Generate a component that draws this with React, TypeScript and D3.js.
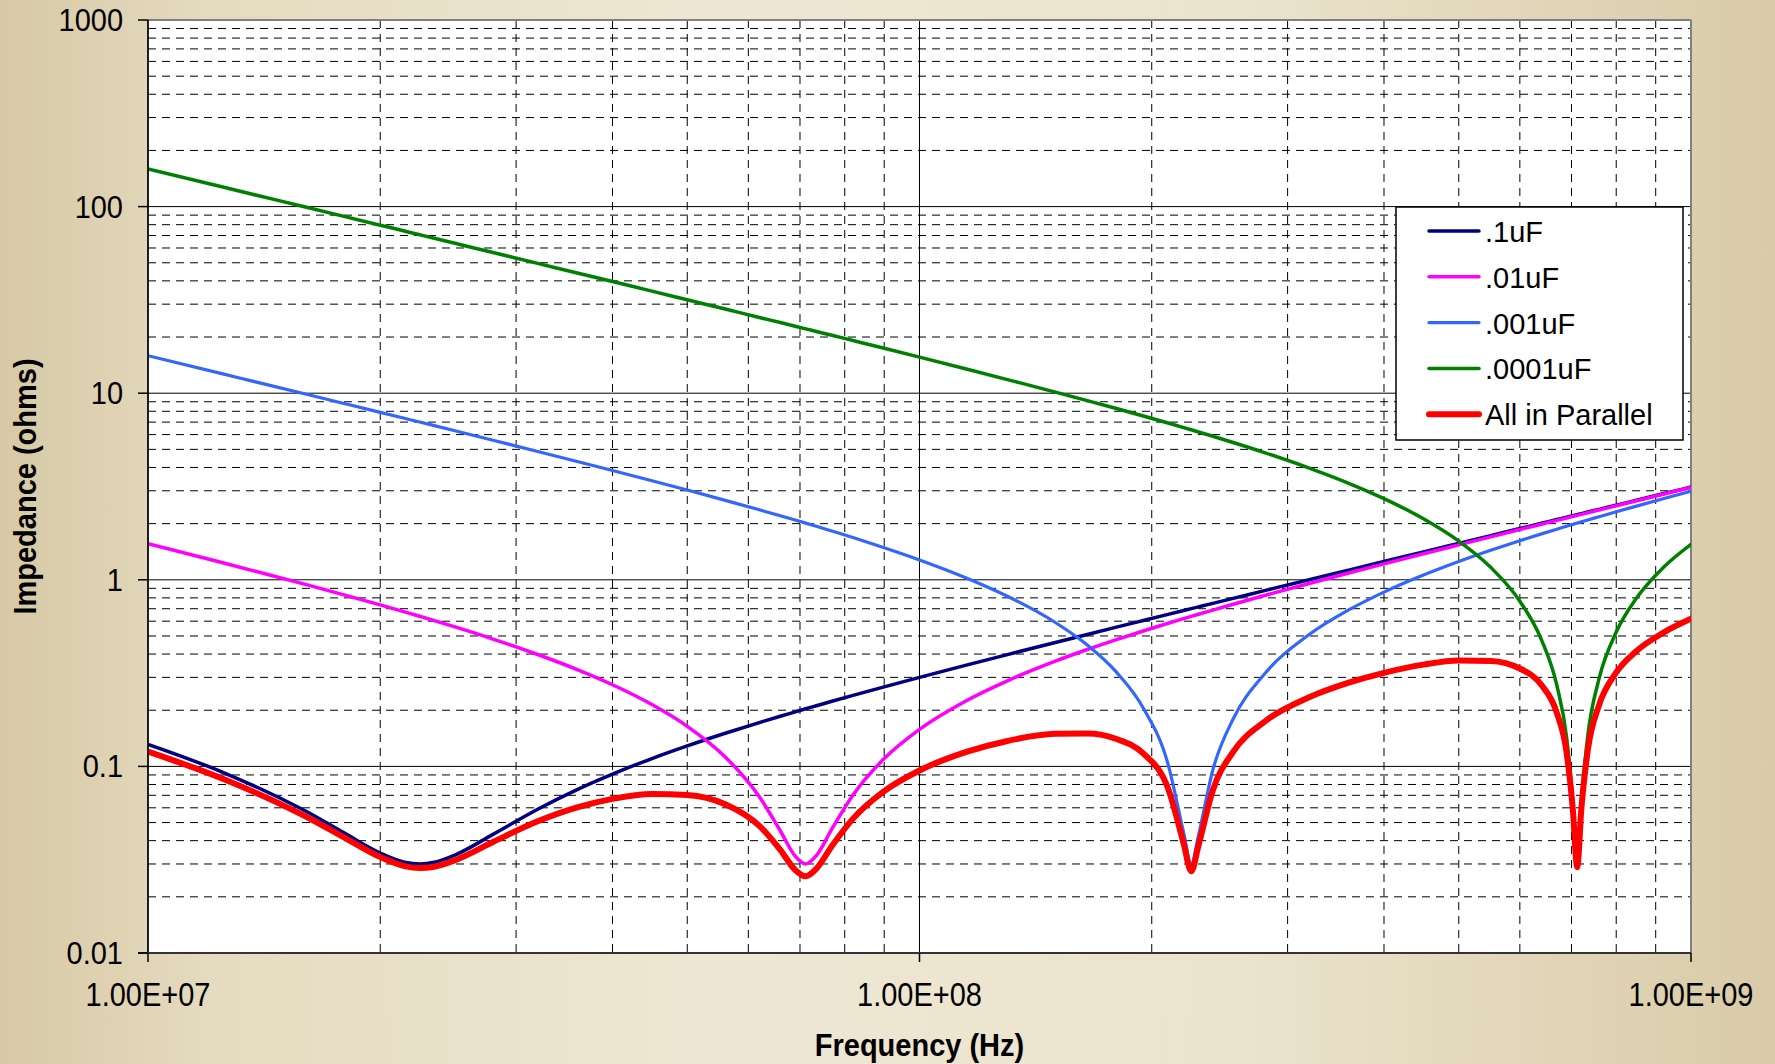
import * as d3 from "d3";

// frequency samples (Hz) read along the x axis
const freqHz = [
  1.0e7, 1.25e7, 1.6e7, 1.8e7, 2.0e7, 2.15e7, 2.25e7, 2.35e7, 2.5e7, 2.8e7,
  3.2e7, 3.6e7, 4.0e7, 4.5e7, 5.0e7, 5.6e7, 6.2e7, 6.6e7, 6.9e7, 7.12e7,
  7.35e7, 7.7e7, 8.2e7, 9.0e7, 1.0e8, 1.15e8, 1.3e8, 1.5e8, 1.65e8, 1.8e8,
  1.95e8, 2.1e8, 2.2e8, 2.25e8, 2.3e8, 2.4e8, 2.55e8, 2.8e8, 3.2e8, 3.6e8,
  4.0e8, 4.5e8, 5.0e8, 5.5e8, 6.0e8, 6.4e8, 6.7e8, 6.9e8, 7.03e8, 7.12e8,
  7.21e8, 7.35e8, 7.6e8, 8.0e8, 8.5e8, 9.2e8, 1.0e9,
];

// impedance (ohms) per series
const cap100n = [
  0.1312, 0.09302, 0.05763, 0.04377, 0.03436, 0.03069, 0.03, 0.03062, 0.03349, 0.04323,
  0.05899, 0.07514, 0.09096, 0.1102, 0.1288, 0.1505, 0.1718, 0.1857, 0.196, 0.2036,
  0.2114, 0.2233, 0.2401, 0.2668, 0.2998, 0.3487, 0.3973, 0.4616, 0.5096, 0.5575,
  0.6052, 0.6529, 0.6846, 0.7004, 0.7163, 0.748, 0.7954, 0.8745, 1.001, 1.127,
  1.253, 1.411, 1.568, 1.725, 1.883, 2.008, 2.103, 2.166, 2.206, 2.235,
  2.263, 2.307, 2.386, 2.511, 2.669, 2.889, 3.14,
];
const cap10n = [
  1.56, 1.234, 0.9449, 0.8282, 0.7335, 0.6734, 0.6374, 0.6042, 0.5589, 0.4814,
  0.3979, 0.3303, 0.2739, 0.2144, 0.164, 0.1124, 0.0688, 0.04519, 0.03306, 0.03,
  0.03327, 0.04626, 0.07025, 0.1101, 0.1579, 0.2249, 0.2876, 0.3664, 0.423, 0.478,
  0.5319, 0.5847, 0.6195, 0.6368, 0.6541, 0.6883, 0.7393, 0.8234, 0.9561, 1.087,
  1.217, 1.379, 1.539, 1.699, 1.859, 1.986, 2.081, 2.145, 2.186, 2.215,
  2.243, 2.288, 2.367, 2.494, 2.652, 2.873, 3.126,
];
const cap1n = [
  15.88, 12.69, 9.897, 8.785, 7.895, 7.335, 7.003, 6.699, 6.288, 5.596,
  4.873, 4.308, 3.853, 3.395, 3.026, 2.666, 2.372, 2.204, 2.09, 2.012,
  1.935, 1.825, 1.684, 1.486, 1.278, 1.023, 0.8163, 0.5905, 0.4472, 0.3201,
  0.2057, 0.1026, 0.04405, 0.03, 0.04286, 0.09568, 0.1795, 0.3127, 0.5089, 0.6895,
  0.8593, 1.06, 1.253, 1.439, 1.62, 1.762, 1.868, 1.937, 1.982, 2.014,
  2.045, 2.093, 2.178, 2.315, 2.483, 2.717, 2.983,
];
const cap100p = [
  159.1, 127.3, 99.42, 88.36, 79.51, 73.96, 70.66, 67.65, 63.58, 56.75,
  49.63, 44.1, 39.66, 35.23, 31.67, 28.24, 25.47, 23.91, 22.85, 22.13,
  21.42, 20.43, 19.15, 17.4, 15.6, 13.48, 11.83, 10.14, 9.127, 8.276,
  7.549, 6.919, 6.543, 6.366, 6.197, 5.877, 5.44, 4.804, 3.968, 3.29,
  2.722, 2.123, 1.612, 1.166, 0.7681, 0.477, 0.2722, 0.142, 0.06294, 0.03004,
  0.06507, 0.1469, 0.2951, 0.5248, 0.7986, 1.161, 1.55,
];
const allParallel = [
  0.12, 0.08586, 0.05399, 0.04136, 0.03267, 0.02923, 0.02852, 0.029, 0.03142, 0.03936,
  0.05079, 0.06028, 0.06698, 0.07111, 0.0703, 0.06268, 0.04804, 0.0357, 0.02787, 0.02578,
  0.02829, 0.03746, 0.0525, 0.07373, 0.09509, 0.1195, 0.1369, 0.1495, 0.1499, 0.1402,
  0.1173, 0.07614, 0.03857, 0.02741, 0.03785, 0.07456, 0.1196, 0.1735, 0.2346, 0.2808,
  0.3174, 0.3511, 0.3696, 0.3676, 0.3346, 0.2728, 0.1936, 0.1179, 0.05779, 0.02883,
  0.05972, 0.1226, 0.2132, 0.3188, 0.4155, 0.5198, 0.6178,
];

const seriesNames = [".1uF", ".01uF", ".001uF", ".0001uF", "All in Parallel"];
const seriesValues = [cap100n, cap10n, cap1n, cap100p, allParallel];
const seriesColors = ["#000080", "#ff00ff", "#3366ff", "#008000", "#ff0000"];
const seriesWidths = [3.5, 3.5, 3.2, 3.5, 6];

const yTickLabels = ["0.01", "0.1", "1", "10", "100", "1000"];
const xTickValues = [1e7, 1e8, 1e9];
const xTickLabels = ["1.00E+07", "1.00E+08", "1.00E+09"];

const W = 1775;
const H = 1064;
const left = 148;
const right = 1691;
const top = 20;
const bottom = 953;
const font = "'Liberation Sans', Arial, sans-serif";

const isDecade = (v: number) => Math.abs(Math.log10(v) - Math.round(Math.log10(v))) < 1e-6;

const App = () => {
  const x = d3.scaleLog().domain([1e7, 1e9]).range([left, right]);
  const y = d3.scaleLog().domain([0.01, 1000]).range([bottom, top]);

  const line = d3
    .line<[number, number]>()
    .x((d) => x(d[0]))
    .y((d) => y(d[1]))
    .curve(d3.curveMonotoneX);

  const yTicks = y.ticks();
  const xTicks = x.ticks();
  const yMajor = yTicks.filter(isDecade);

  const legendX = 1396;
  const legendY = 207;
  const rowGap = 45.8;

  return (
    <svg
      width={W}
      height={H}
      style={{ position: "absolute", left: 0, top: 0 }}
      fontFamily={font}
    >
      <defs>
        <linearGradient id="bg" x1="0" x2="1" y1="0" y2="0">
          <stop offset="0" stopColor="#d7c9a5" />
          <stop offset="0.12" stopColor="#e5dbc0" />
          <stop offset="0.4" stopColor="#eee7d3" />
          <stop offset="0.7" stopColor="#ebe3cd" />
          <stop offset="1" stopColor="#d9cba8" />
        </linearGradient>
        <clipPath id="plot">
          <rect x={left} y={top} width={right - left} height={bottom - top} />
        </clipPath>
      </defs>
      <rect width={W} height={H} fill="url(#bg)" />
      <rect x={left} y={top} width={right - left} height={bottom - top} fill="#fff" />

      {/* minor grid */}
      <g stroke="#000" strokeWidth={1} strokeDasharray="8 6" fill="none">
        {yTicks
          .filter((v) => !isDecade(v))
          .map((v, i) => (
            <line key={"yg" + i} x1={left} x2={right} y1={y(v)} y2={y(v)} />
          ))}
        {xTicks
          .filter((v) => !isDecade(v))
          .map((v, i) => (
            <line key={"xg" + i} x1={x(v)} x2={x(v)} y1={top} y2={bottom} />
          ))}
      </g>
      {/* major grid */}
      <g stroke="#000" strokeWidth={1}>
        {yMajor.map((v, i) => (
          <line key={"ym" + i} x1={left} x2={right} y1={y(v)} y2={y(v)} />
        ))}
        {xTickValues.map((v, i) => (
          <line key={"xm" + i} x1={x(v)} x2={x(v)} y1={top} y2={bottom} />
        ))}
      </g>

      {/* plot border */}
      <line x1={left} x2={right} y1={top} y2={top} stroke="#808080" strokeWidth={2} />
      <line x1={right} x2={right} y1={top} y2={bottom} stroke="#808080" strokeWidth={2} />

      {/* series */}
      <g clipPath="url(#plot)" fill="none" strokeLinejoin="round" strokeLinecap="round">
        {seriesValues.map((vals, s) => (
          <path
            key={seriesNames[s]}
            d={line(freqHz.map((f, i) => [f, vals[i]] as [number, number])) || ""}
            stroke={seriesColors[s]}
            strokeWidth={seriesWidths[s]}
          />
        ))}
      </g>

      {/* axes */}
      <line x1={left} x2={left} y1={top} y2={bottom} stroke="#000" strokeWidth={1.5} />
      <line x1={left - 10} x2={right} y1={bottom} y2={bottom} stroke="#333" strokeWidth={2} />
      {yMajor.map((v, i) => (
        <g key={"yt" + i}>
          <line x1={left - 10} x2={left} y1={y(v)} y2={y(v)} stroke="#000" strokeWidth={1.5} />
          <text
            transform={`translate(123, ${y(v) + 11}) scale(1, 1.1)`}
            fontSize={29}
            textAnchor="end"
            fill="#000"
          >
            {yTickLabels[i]}
          </text>
        </g>
      ))}
      {xTickValues.map((v, i) => (
        <g key={"xt" + i}>
          <line x1={x(v)} x2={x(v)} y1={bottom} y2={bottom + 9} stroke="#000" strokeWidth={1.5} />
          <text
            transform={`translate(${x(v)}, 1006) scale(1, 1.12)`}
            fontSize={29}
            textAnchor="middle"
            fill="#000"
          >
            {xTickLabels[i]}
          </text>
        </g>
      ))}

      {/* axis titles */}
      <text
        transform={`translate(${(left + right) / 2}, 1056) scale(1, 1.08)`}
        fontSize={29}
        fontWeight="bold"
        textAnchor="middle"
        fill="#000"
      >
        Frequency (Hz)
      </text>
      <text
        transform={`translate(36, ${(top + bottom) / 2}) rotate(-90) scale(1, 1.08)`}
        fontSize={29}
        fontWeight="bold"
        textAnchor="middle"
        fill="#000"
      >
        Impedance (ohms)
      </text>

      {/* legend */}
      <rect x={legendX} y={legendY} width={287} height={233} fill="#fff" stroke="#000" strokeWidth={1.5} />
      {seriesNames.map((name, i) => {
        const cy = legendY + 24 + i * rowGap;
        return (
          <g key={"lg" + i}>
            <line
              x1={legendX + 33}
              x2={legendX + 83}
              y1={cy}
              y2={cy}
              stroke={seriesColors[i]}
              strokeWidth={seriesWidths[i]}
              strokeLinecap="round"
            />
            <text x={legendX + 89} y={cy + 11} fontSize={29} fill="#000">
              {name}
            </text>
          </g>
        );
      })}
    </svg>
  );
};

export default App;
